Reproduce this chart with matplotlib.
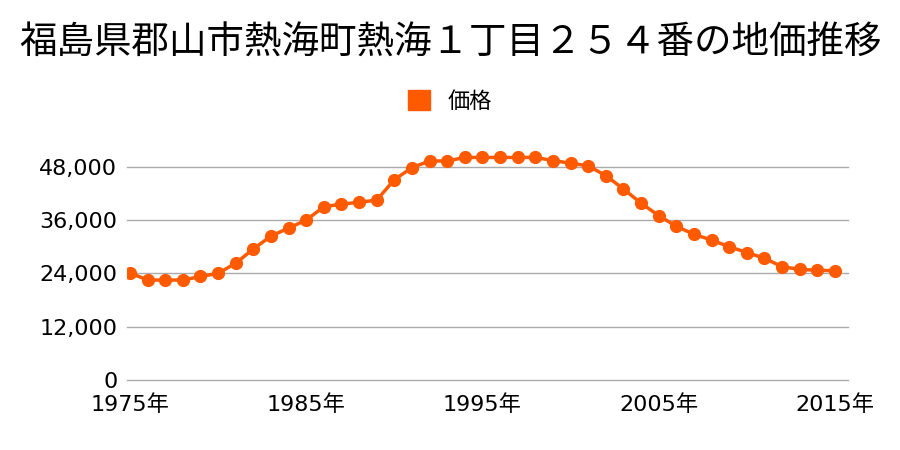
import matplotlib
matplotlib.use("Agg")
import matplotlib.pyplot as plt
from matplotlib.patches import Patch

plt.rcParams['font.family'] = ['DejaVu Sans', 'Noto Sans CJK JP']

title = "福島県郡山市熱海町熱海１丁目２５４番の地価推移"
series_name = "価格"
years = list(range(1975, 2016))
prices = [24100, 22500, 22500, 22500, 23300, 24000, 26300, 29500, 32400, 34200,
          36000, 39000, 39600, 40000, 40500, 45100, 47800, 49300, 49300, 50100,
          50100, 50100, 50100, 50100, 49400, 48800, 48200, 46000, 43000, 39800,
          37000, 34600, 32800, 31500, 30000, 28700, 27400, 25500, 24900, 24700,
          24600]
yticks = [0, 12000, 24000, 36000, 48000]
xticks = [1975, 1985, 1995, 2005, 2015]

color = '#FF5A00'
cjk = ['Noto Sans CJK JP', 'DejaVu Sans']
fig = plt.figure(figsize=(9, 4.5), dpi=100)
ax = fig.add_axes([127/900, (450-380)/450, (848-127)/900, (380-149)/450])
ax.plot(years, prices, color=color, lw=2.5, marker='o', ms=8.5, zorder=3)
ax.set_xlim(1974.83, 2015.74)
ax.set_ylim(0, 52000)
ax.set_yticks(yticks)
ax.set_yticklabels([f"{v:,}" for v in yticks], fontsize=16)
ax.set_xticks(xticks)
ax.set_xticklabels([f"{y}年" for y in xticks], fontsize=16)
ax.tick_params(length=0)
ax.tick_params(axis='y', pad=7)
ax.tick_params(axis='x', pad=10)
for s in ax.spines.values():
    s.set_visible(False)
ax.grid(axis='y', color='#aaaaaa', lw=1)
for gl in ax.get_ygridlines():
    gl.set_clip_on(False)
ax.set_axisbelow(True)

fig.suptitle(title, y=1-43/450, va='center', fontsize=27, family=cjk)
fig.legend(handles=[Patch(color=color, label=series_name)], loc='center',
           bbox_to_anchor=(0.5, 1-101/450), frameon=False,
           prop={'family': cjk, 'size': 16},
           handlelength=1.0, handleheight=1.0, handletextpad=0.8)
fig.savefig("out.png", dpi=100)
